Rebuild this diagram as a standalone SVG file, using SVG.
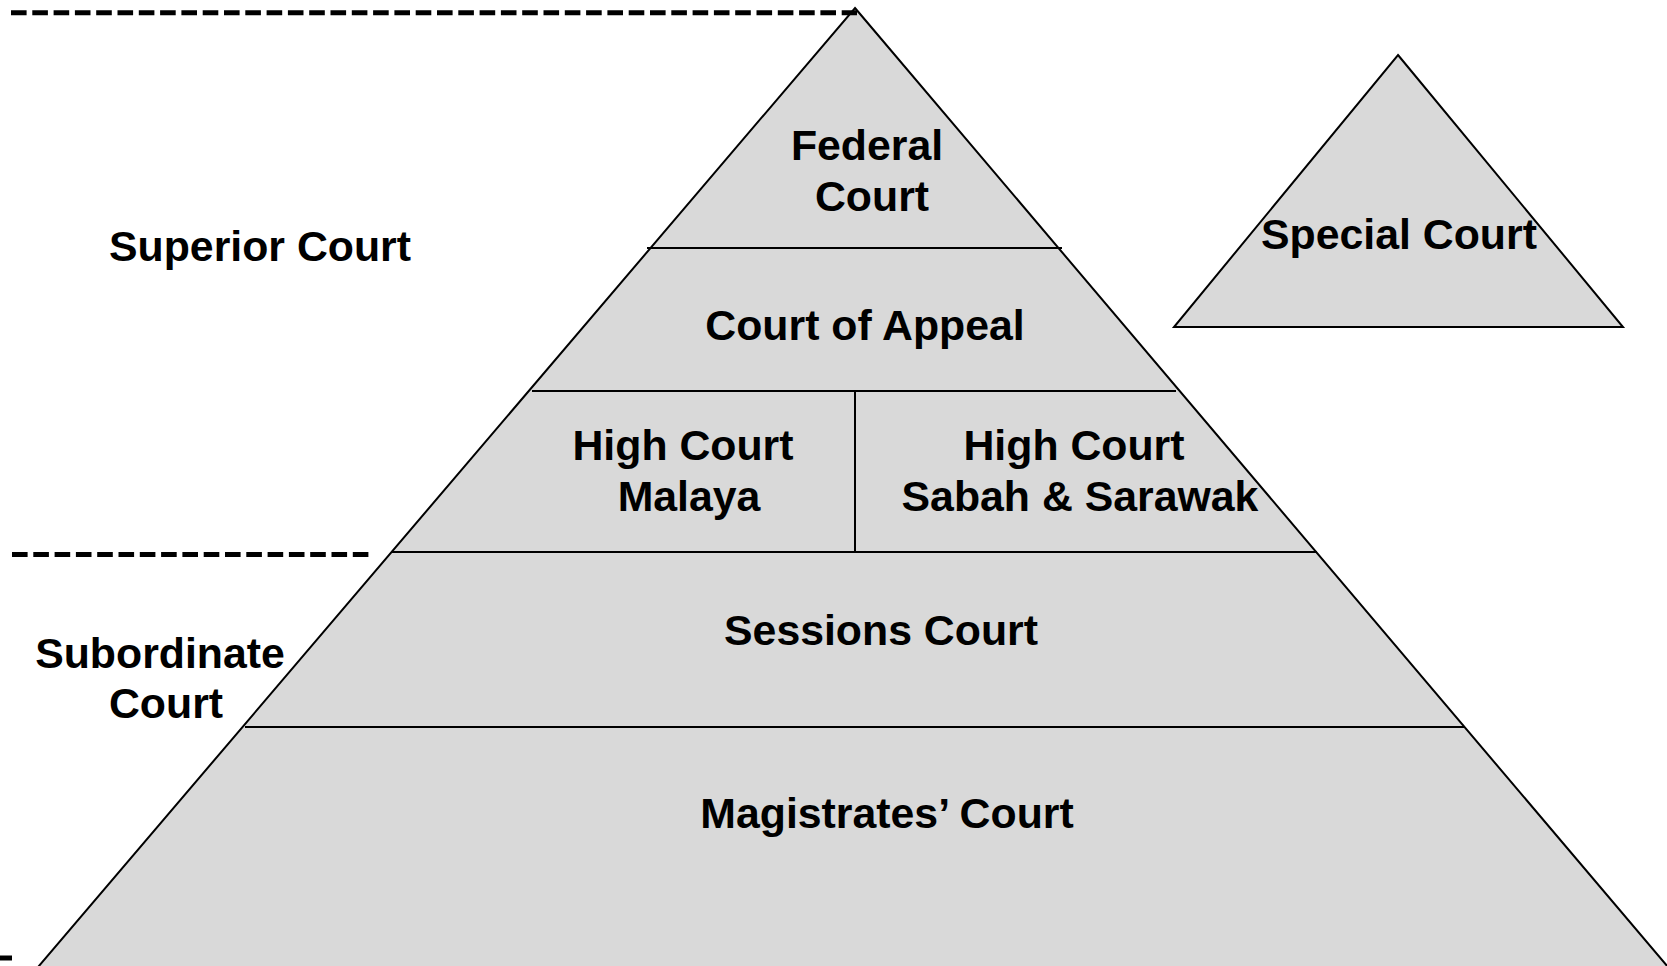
<svg xmlns="http://www.w3.org/2000/svg" width="1667" height="966" viewBox="0 0 1667 966">
<style>
.shape{fill:#d9d9d9;stroke:#000;stroke-width:2;stroke-linejoin:miter}
.div{stroke:#000;stroke-width:2;fill:none}
.dash{stroke:#000;stroke-width:5;stroke-dasharray:15.6 5.7;fill:none}
.t{font-family:"Liberation Sans",Arial,sans-serif;font-weight:bold;font-size:42.8px;fill:#000;text-anchor:middle}
</style>
<rect width="1667" height="966" fill="#fff"/>
<g id="pyramid">
<polygon class="shape" points="855,8 1679,980 27,980"/>
</g>
<g id="connectors">
<line class="div" x1="647" y1="248" x2="1062" y2="248"/>
<line class="div" x1="532" y1="391" x2="1176" y2="391"/>
<line class="div" x1="855" y1="391" x2="855" y2="552"/>
<line class="div" x1="391" y1="552" x2="1317" y2="552"/>
<line class="div" x1="245" y1="727" x2="1464" y2="727"/>
<line class="dash" x1="11" y1="12.7" x2="857" y2="12.7"/>
<line class="dash" x1="12" y1="554.5" x2="372" y2="554.5"/>
<line class="dash" x1="0" y1="958" x2="12" y2="958"/>
</g>
<g id="federal-court">
<text class="t" x="867" y="160">Federal</text>
<text class="t" x="872" y="211">Court</text>
</g>
<g id="court-of-appeal">
<text class="t" x="865" y="340">Court of Appeal</text>
</g>
<g id="high-court-malaya">
<text class="t" x="683" y="460">High Court</text>
<text class="t" x="689" y="511">Malaya</text>
</g>
<g id="high-court-sabah-sarawak">
<text class="t" x="1074" y="460">High Court</text>
<text class="t" x="1080" y="511">Sabah &amp; Sarawak</text>
</g>
<g id="sessions-court">
<text class="t" x="881" y="645">Sessions Court</text>
</g>
<g id="magistrates-court">
<text class="t" x="887" y="828">Magistrates’ Court</text>
</g>
<g id="superior-court-label">
<text class="t" x="260" y="261">Superior Court</text>
</g>
<g id="subordinate-court-label">
<text class="t" x="160" y="668">Subordinate</text>
<text class="t" x="166" y="718">Court</text>
</g>
<g id="special-court">
<polygon class="shape" points="1398,55 1623,327 1174,327"/>
<text class="t" x="1399" y="249">Special Court</text>
</g>
</svg>
